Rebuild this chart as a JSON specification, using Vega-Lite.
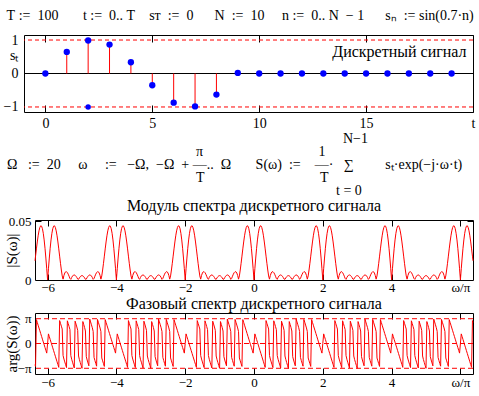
{
"$schema": "https://vega.github.io/schema/vega-lite/v6.json",
"padding": {"left": 2, "top": 8, "right": 0, "bottom": 0},
"background": "white",
"config": {
 "font": "Liberation Serif",
 "view": {"stroke": "black", "strokeWidth": 1},
 "axis": {"labelFont": "Liberation Serif", "labelColor": "black", "titleFont": "Liberation Serif", "titleFontWeight": "normal", "titleColor": "black", "grid": false, "domain": false, "tickColor": "black", "tickWidth": 1, "labelOverlap": false, "labelFlush": false, "labelBound": false},
 "title": {"font": "Liberation Serif", "fontSize": 14, "fontWeight": "normal", "color": "black"}
},
"datasets": {
 "signal": [{"t":0,"s":0},{"t":1,"s":0.644},{"t":2,"s":0.985},{"t":3,"s":0.863},{"t":4,"s":0.335},{"t":5,"s":-0.351},{"t":6,"s":-0.872},{"t":7,"s":-0.982},{"t":8,"s":-0.631},{"t":9,"s":0.017},{"t":10,"s":0},{"t":11,"s":0},{"t":12,"s":0},{"t":13,"s":0},{"t":14,"s":0},{"t":15,"s":0},{"t":16,"s":0},{"t":17,"s":0},{"t":18,"s":0},{"t":19,"s":0}],
 "spectrum": [
{"w":-6.366,"m":0.01633,"a":-0.852},
{"w":-6.35,"m":0.02029,"a":-0.925},{"w":-6.325,"m":0.02645,"a":0.963},{"w":-6.3,"m":0.03232,"a":0.85},{"w":-6.275,"m":0.03755,"a":0.738},{"w":-6.25,"m":0.04178,"a":0.625},{"w":-6.225,"m":0.04471,"a":0.513},{"w":-6.2,"m":0.0461,"a":0.4},{"w":-6.175,"m":0.04577,"a":0.288},{"w":-6.15,"m":0.04362,"a":0.175},{"w":-6.125,"m":0.03968,"a":0.063},{"w":-6.1,"m":0.03406,"a":-0.05},{"w":-6.075,"m":0.02696,"a":-0.163},{"w":-6.05,"m":0.01867,"a":-0.275},{"w":-6.025,"m":0.00955,"a":-0.388},
{"w":-6,"m":0.00009,"a":0},
{"w":-5.975,"m":0.00955,"a":0.388},{"w":-5.95,"m":0.01867,"a":0.275},{"w":-5.925,"m":0.02696,"a":0.163},{"w":-5.9,"m":0.03406,"a":0.05},{"w":-5.875,"m":0.03968,"a":-0.063},{"w":-5.85,"m":0.04362,"a":-0.175},{"w":-5.825,"m":0.04577,"a":-0.288},{"w":-5.8,"m":0.0461,"a":-0.4},{"w":-5.775,"m":0.04471,"a":-0.513},{"w":-5.75,"m":0.04178,"a":-0.625},{"w":-5.725,"m":0.03755,"a":-0.738},{"w":-5.7,"m":0.03232,"a":-0.85},{"w":-5.675,"m":0.02645,"a":-0.963},{"w":-5.65,"m":0.02029,"a":0.925},{"w":-5.625,"m":0.0142,"a":0.813},{"w":-5.6,"m":0.0085,"a":0.7},{"w":-5.575,"m":0.00346,"a":0.584},{"w":-5.55,"m":0.00071,"a":-0.483},{"w":-5.525,"m":0.00385,"a":-0.627},{"w":-5.5,"m":0.00594,"a":-0.743},{"w":-5.475,"m":0.00697,"a":-0.857},{"w":-5.45,"m":0.00705,"a":-0.971},{"w":-5.425,"m":0.00631,"a":0.915},{"w":-5.4,"m":0.00496,"a":0.8},{"w":-5.375,"m":0.00322,"a":0.684},{"w":-5.35,"m":0.00131,"a":0.559},{"w":-5.325,"m":0.00055,"a":-0.485},{"w":-5.3,"m":0.00216,"a":-0.636},{"w":-5.275,"m":0.00338,"a":-0.754},{"w":-5.25,"m":0.00411,"a":-0.87},{"w":-5.225,"m":0.0043,"a":-0.985},{"w":-5.2,"m":0.00398,"a":0.9},{"w":-5.175,"m":0.00321,"a":0.785},{"w":-5.15,"m":0.0021,"a":0.666},{"w":-5.125,"m":0.00078,"a":0.531},{"w":-5.1,"m":0.00059,"a":-0.504},{"w":-5.075,"m":0.00184,"a":-0.649},{"w":-5.05,"m":0.00285,"a":-0.768},{"w":-5.025,"m":0.00351,"a":-0.885},{"w":-5,"m":0.00373,"a":-1},
{"w":-4.975,"m":0.00351,"a":0.885},{"w":-4.95,"m":0.00285,"a":0.768},{"w":-4.925,"m":0.00184,"a":0.649},{"w":-4.9,"m":0.00059,"a":0.504},{"w":-4.875,"m":0.00078,"a":-0.531},{"w":-4.85,"m":0.0021,"a":-0.666},{"w":-4.825,"m":0.00321,"a":-0.785},{"w":-4.8,"m":0.00398,"a":-0.9},{"w":-4.775,"m":0.0043,"a":0.985},{"w":-4.75,"m":0.00411,"a":0.87},{"w":-4.725,"m":0.00338,"a":0.754},{"w":-4.7,"m":0.00216,"a":0.636},{"w":-4.675,"m":0.00055,"a":0.485},{"w":-4.65,"m":0.00131,"a":-0.559},{"w":-4.625,"m":0.00322,"a":-0.684},{"w":-4.6,"m":0.00496,"a":-0.8},{"w":-4.575,"m":0.00631,"a":-0.915},{"w":-4.55,"m":0.00705,"a":0.971},{"w":-4.525,"m":0.00697,"a":0.857},{"w":-4.5,"m":0.00594,"a":0.743},{"w":-4.475,"m":0.00385,"a":0.627},{"w":-4.45,"m":0.00071,"a":0.483},{"w":-4.425,"m":0.00346,"a":-0.584},{"w":-4.4,"m":0.0085,"a":-0.7},{"w":-4.375,"m":0.0142,"a":-0.813},{"w":-4.35,"m":0.02029,"a":-0.925},{"w":-4.325,"m":0.02645,"a":0.963},{"w":-4.3,"m":0.03232,"a":0.85},{"w":-4.275,"m":0.03755,"a":0.738},{"w":-4.25,"m":0.04178,"a":0.625},{"w":-4.225,"m":0.04471,"a":0.513},{"w":-4.2,"m":0.0461,"a":0.4},{"w":-4.175,"m":0.04577,"a":0.288},{"w":-4.15,"m":0.04362,"a":0.175},{"w":-4.125,"m":0.03968,"a":0.063},{"w":-4.1,"m":0.03406,"a":-0.05},{"w":-4.075,"m":0.02696,"a":-0.163},{"w":-4.05,"m":0.01867,"a":-0.275},{"w":-4.025,"m":0.00955,"a":-0.388},
{"w":-4,"m":0.00009,"a":0},
{"w":-3.975,"m":0.00955,"a":0.388},{"w":-3.95,"m":0.01867,"a":0.275},{"w":-3.925,"m":0.02696,"a":0.163},{"w":-3.9,"m":0.03406,"a":0.05},{"w":-3.875,"m":0.03968,"a":-0.063},{"w":-3.85,"m":0.04362,"a":-0.175},{"w":-3.825,"m":0.04577,"a":-0.288},{"w":-3.8,"m":0.0461,"a":-0.4},{"w":-3.775,"m":0.04471,"a":-0.513},{"w":-3.75,"m":0.04178,"a":-0.625},{"w":-3.725,"m":0.03755,"a":-0.738},{"w":-3.7,"m":0.03232,"a":-0.85},{"w":-3.675,"m":0.02645,"a":-0.963},{"w":-3.65,"m":0.02029,"a":0.925},{"w":-3.625,"m":0.0142,"a":0.813},{"w":-3.6,"m":0.0085,"a":0.7},{"w":-3.575,"m":0.00346,"a":0.584},{"w":-3.55,"m":0.00071,"a":-0.483},{"w":-3.525,"m":0.00385,"a":-0.627},{"w":-3.5,"m":0.00594,"a":-0.743},{"w":-3.475,"m":0.00697,"a":-0.857},{"w":-3.45,"m":0.00705,"a":-0.971},{"w":-3.425,"m":0.00631,"a":0.915},{"w":-3.4,"m":0.00496,"a":0.8},{"w":-3.375,"m":0.00322,"a":0.684},{"w":-3.35,"m":0.00131,"a":0.559},{"w":-3.325,"m":0.00055,"a":-0.485},{"w":-3.3,"m":0.00216,"a":-0.636},{"w":-3.275,"m":0.00338,"a":-0.754},{"w":-3.25,"m":0.00411,"a":-0.87},{"w":-3.225,"m":0.0043,"a":-0.985},{"w":-3.2,"m":0.00398,"a":0.9},{"w":-3.175,"m":0.00321,"a":0.785},{"w":-3.15,"m":0.0021,"a":0.666},{"w":-3.125,"m":0.00078,"a":0.531},{"w":-3.1,"m":0.00059,"a":-0.504},{"w":-3.075,"m":0.00184,"a":-0.649},{"w":-3.05,"m":0.00285,"a":-0.768},{"w":-3.025,"m":0.00351,"a":-0.885},{"w":-3,"m":0.00373,"a":-1},
{"w":-2.975,"m":0.00351,"a":0.885},{"w":-2.95,"m":0.00285,"a":0.768},{"w":-2.925,"m":0.00184,"a":0.649},{"w":-2.9,"m":0.00059,"a":0.504},{"w":-2.875,"m":0.00078,"a":-0.531},{"w":-2.85,"m":0.0021,"a":-0.666},{"w":-2.825,"m":0.00321,"a":-0.785},{"w":-2.8,"m":0.00398,"a":-0.9},{"w":-2.775,"m":0.0043,"a":0.985},{"w":-2.75,"m":0.00411,"a":0.87},{"w":-2.725,"m":0.00338,"a":0.754},{"w":-2.7,"m":0.00216,"a":0.636},{"w":-2.675,"m":0.00055,"a":0.485},{"w":-2.65,"m":0.00131,"a":-0.559},{"w":-2.625,"m":0.00322,"a":-0.684},{"w":-2.6,"m":0.00496,"a":-0.8},{"w":-2.575,"m":0.00631,"a":-0.915},{"w":-2.55,"m":0.00705,"a":0.971},{"w":-2.525,"m":0.00697,"a":0.857},{"w":-2.5,"m":0.00594,"a":0.743},{"w":-2.475,"m":0.00385,"a":0.627},{"w":-2.45,"m":0.00071,"a":0.483},{"w":-2.425,"m":0.00346,"a":-0.584},{"w":-2.4,"m":0.0085,"a":-0.7},{"w":-2.375,"m":0.0142,"a":-0.813},{"w":-2.35,"m":0.02029,"a":-0.925},{"w":-2.325,"m":0.02645,"a":0.963},{"w":-2.3,"m":0.03232,"a":0.85},{"w":-2.275,"m":0.03755,"a":0.738},{"w":-2.25,"m":0.04178,"a":0.625},{"w":-2.225,"m":0.04471,"a":0.513},{"w":-2.2,"m":0.0461,"a":0.4},{"w":-2.175,"m":0.04577,"a":0.288},{"w":-2.15,"m":0.04362,"a":0.175},{"w":-2.125,"m":0.03968,"a":0.063},{"w":-2.1,"m":0.03406,"a":-0.05},{"w":-2.075,"m":0.02696,"a":-0.163},{"w":-2.05,"m":0.01867,"a":-0.275},{"w":-2.025,"m":0.00955,"a":-0.388},
{"w":-2,"m":0.00009,"a":0},
{"w":-1.975,"m":0.00955,"a":0.388},{"w":-1.95,"m":0.01867,"a":0.275},{"w":-1.925,"m":0.02696,"a":0.163},{"w":-1.9,"m":0.03406,"a":0.05},{"w":-1.875,"m":0.03968,"a":-0.063},{"w":-1.85,"m":0.04362,"a":-0.175},{"w":-1.825,"m":0.04577,"a":-0.288},{"w":-1.8,"m":0.0461,"a":-0.4},{"w":-1.775,"m":0.04471,"a":-0.513},{"w":-1.75,"m":0.04178,"a":-0.625},{"w":-1.725,"m":0.03755,"a":-0.738},{"w":-1.7,"m":0.03232,"a":-0.85},{"w":-1.675,"m":0.02645,"a":-0.963},{"w":-1.65,"m":0.02029,"a":0.925},{"w":-1.625,"m":0.0142,"a":0.813},{"w":-1.6,"m":0.0085,"a":0.7},{"w":-1.575,"m":0.00346,"a":0.584},{"w":-1.55,"m":0.00071,"a":-0.483},{"w":-1.525,"m":0.00385,"a":-0.627},{"w":-1.5,"m":0.00594,"a":-0.743},{"w":-1.475,"m":0.00697,"a":-0.857},{"w":-1.45,"m":0.00705,"a":-0.971},{"w":-1.425,"m":0.00631,"a":0.915},{"w":-1.4,"m":0.00496,"a":0.8},{"w":-1.375,"m":0.00322,"a":0.684},{"w":-1.35,"m":0.00131,"a":0.559},{"w":-1.325,"m":0.00055,"a":-0.485},{"w":-1.3,"m":0.00216,"a":-0.636},{"w":-1.275,"m":0.00338,"a":-0.754},{"w":-1.25,"m":0.00411,"a":-0.87},{"w":-1.225,"m":0.0043,"a":-0.985},{"w":-1.2,"m":0.00398,"a":0.9},{"w":-1.175,"m":0.00321,"a":0.785},{"w":-1.15,"m":0.0021,"a":0.666},{"w":-1.125,"m":0.00078,"a":0.531},{"w":-1.1,"m":0.00059,"a":-0.504},{"w":-1.075,"m":0.00184,"a":-0.649},{"w":-1.05,"m":0.00285,"a":-0.768},{"w":-1.025,"m":0.00351,"a":-0.885},{"w":-1,"m":0.00373,"a":-1},
{"w":-0.975,"m":0.00351,"a":0.885},{"w":-0.95,"m":0.00285,"a":0.768},{"w":-0.925,"m":0.00184,"a":0.649},{"w":-0.9,"m":0.00059,"a":0.504},{"w":-0.875,"m":0.00078,"a":-0.531},{"w":-0.85,"m":0.0021,"a":-0.666},{"w":-0.825,"m":0.00321,"a":-0.785},{"w":-0.8,"m":0.00398,"a":-0.9},{"w":-0.775,"m":0.0043,"a":0.985},{"w":-0.75,"m":0.00411,"a":0.87},{"w":-0.725,"m":0.00338,"a":0.754},{"w":-0.7,"m":0.00216,"a":0.636},{"w":-0.675,"m":0.00055,"a":0.485},{"w":-0.65,"m":0.00131,"a":-0.559},{"w":-0.625,"m":0.00322,"a":-0.684},{"w":-0.6,"m":0.00496,"a":-0.8},{"w":-0.575,"m":0.00631,"a":-0.915},{"w":-0.55,"m":0.00705,"a":0.971},{"w":-0.525,"m":0.00697,"a":0.857},{"w":-0.5,"m":0.00594,"a":0.743},{"w":-0.475,"m":0.00385,"a":0.627},{"w":-0.45,"m":0.00071,"a":0.483},{"w":-0.425,"m":0.00346,"a":-0.584},{"w":-0.4,"m":0.0085,"a":-0.7},{"w":-0.375,"m":0.0142,"a":-0.813},{"w":-0.35,"m":0.02029,"a":-0.925},{"w":-0.325,"m":0.02645,"a":0.963},{"w":-0.3,"m":0.03232,"a":0.85},{"w":-0.275,"m":0.03755,"a":0.738},{"w":-0.25,"m":0.04178,"a":0.625},{"w":-0.225,"m":0.04471,"a":0.513},{"w":-0.2,"m":0.0461,"a":0.4},{"w":-0.175,"m":0.04577,"a":0.288},{"w":-0.15,"m":0.04362,"a":0.175},{"w":-0.125,"m":0.03968,"a":0.063},{"w":-0.1,"m":0.03406,"a":-0.05},{"w":-0.075,"m":0.02696,"a":-0.163},{"w":-0.05,"m":0.01867,"a":-0.275},{"w":-0.025,"m":0.00955,"a":-0.388},
{"w":0,"m":0.00009,"a":0},
{"w":0.025,"m":0.00955,"a":0.388},{"w":0.05,"m":0.01867,"a":0.275},{"w":0.075,"m":0.02696,"a":0.163},{"w":0.1,"m":0.03406,"a":0.05},{"w":0.125,"m":0.03968,"a":-0.063},{"w":0.15,"m":0.04362,"a":-0.175},{"w":0.175,"m":0.04577,"a":-0.288},{"w":0.2,"m":0.0461,"a":-0.4},{"w":0.225,"m":0.04471,"a":-0.513},{"w":0.25,"m":0.04178,"a":-0.625},{"w":0.275,"m":0.03755,"a":-0.738},{"w":0.3,"m":0.03232,"a":-0.85},{"w":0.325,"m":0.02645,"a":-0.963},{"w":0.35,"m":0.02029,"a":0.925},{"w":0.375,"m":0.0142,"a":0.813},{"w":0.4,"m":0.0085,"a":0.7},{"w":0.425,"m":0.00346,"a":0.584},{"w":0.45,"m":0.00071,"a":-0.483},{"w":0.475,"m":0.00385,"a":-0.627},{"w":0.5,"m":0.00594,"a":-0.743},{"w":0.525,"m":0.00697,"a":-0.857},{"w":0.55,"m":0.00705,"a":-0.971},{"w":0.575,"m":0.00631,"a":0.915},{"w":0.6,"m":0.00496,"a":0.8},{"w":0.625,"m":0.00322,"a":0.684},{"w":0.65,"m":0.00131,"a":0.559},{"w":0.675,"m":0.00055,"a":-0.485},{"w":0.7,"m":0.00216,"a":-0.636},{"w":0.725,"m":0.00338,"a":-0.754},{"w":0.75,"m":0.00411,"a":-0.87},{"w":0.775,"m":0.0043,"a":-0.985},{"w":0.8,"m":0.00398,"a":0.9},{"w":0.825,"m":0.00321,"a":0.785},{"w":0.85,"m":0.0021,"a":0.666},{"w":0.875,"m":0.00078,"a":0.531},{"w":0.9,"m":0.00059,"a":-0.504},{"w":0.925,"m":0.00184,"a":-0.649},{"w":0.95,"m":0.00285,"a":-0.768},{"w":0.975,"m":0.00351,"a":-0.885},{"w":1,"m":0.00373,"a":-1},
{"w":1.025,"m":0.00351,"a":0.885},{"w":1.05,"m":0.00285,"a":0.768},{"w":1.075,"m":0.00184,"a":0.649},{"w":1.1,"m":0.00059,"a":0.504},{"w":1.125,"m":0.00078,"a":-0.531},{"w":1.15,"m":0.0021,"a":-0.666},{"w":1.175,"m":0.00321,"a":-0.785},{"w":1.2,"m":0.00398,"a":-0.9},{"w":1.225,"m":0.0043,"a":0.985},{"w":1.25,"m":0.00411,"a":0.87},{"w":1.275,"m":0.00338,"a":0.754},{"w":1.3,"m":0.00216,"a":0.636},{"w":1.325,"m":0.00055,"a":0.485},{"w":1.35,"m":0.00131,"a":-0.559},{"w":1.375,"m":0.00322,"a":-0.684},{"w":1.4,"m":0.00496,"a":-0.8},{"w":1.425,"m":0.00631,"a":-0.915},{"w":1.45,"m":0.00705,"a":0.971},{"w":1.475,"m":0.00697,"a":0.857},{"w":1.5,"m":0.00594,"a":0.743},{"w":1.525,"m":0.00385,"a":0.627},{"w":1.55,"m":0.00071,"a":0.483},{"w":1.575,"m":0.00346,"a":-0.584},{"w":1.6,"m":0.0085,"a":-0.7},{"w":1.625,"m":0.0142,"a":-0.813},{"w":1.65,"m":0.02029,"a":-0.925},{"w":1.675,"m":0.02645,"a":0.963},{"w":1.7,"m":0.03232,"a":0.85},{"w":1.725,"m":0.03755,"a":0.738},{"w":1.75,"m":0.04178,"a":0.625},{"w":1.775,"m":0.04471,"a":0.513},{"w":1.8,"m":0.0461,"a":0.4},{"w":1.825,"m":0.04577,"a":0.288},{"w":1.85,"m":0.04362,"a":0.175},{"w":1.875,"m":0.03968,"a":0.063},{"w":1.9,"m":0.03406,"a":-0.05},{"w":1.925,"m":0.02696,"a":-0.163},{"w":1.95,"m":0.01867,"a":-0.275},{"w":1.975,"m":0.00955,"a":-0.388},
{"w":2,"m":0.00009,"a":0},
{"w":2.025,"m":0.00955,"a":0.388},{"w":2.05,"m":0.01867,"a":0.275},{"w":2.075,"m":0.02696,"a":0.163},{"w":2.1,"m":0.03406,"a":0.05},{"w":2.125,"m":0.03968,"a":-0.063},{"w":2.15,"m":0.04362,"a":-0.175},{"w":2.175,"m":0.04577,"a":-0.288},{"w":2.2,"m":0.0461,"a":-0.4},{"w":2.225,"m":0.04471,"a":-0.513},{"w":2.25,"m":0.04178,"a":-0.625},{"w":2.275,"m":0.03755,"a":-0.738},{"w":2.3,"m":0.03232,"a":-0.85},{"w":2.325,"m":0.02645,"a":-0.963},{"w":2.35,"m":0.02029,"a":0.925},{"w":2.375,"m":0.0142,"a":0.813},{"w":2.4,"m":0.0085,"a":0.7},{"w":2.425,"m":0.00346,"a":0.584},{"w":2.45,"m":0.00071,"a":-0.483},{"w":2.475,"m":0.00385,"a":-0.627},{"w":2.5,"m":0.00594,"a":-0.743},{"w":2.525,"m":0.00697,"a":-0.857},{"w":2.55,"m":0.00705,"a":-0.971},{"w":2.575,"m":0.00631,"a":0.915},{"w":2.6,"m":0.00496,"a":0.8},{"w":2.625,"m":0.00322,"a":0.684},{"w":2.65,"m":0.00131,"a":0.559},{"w":2.675,"m":0.00055,"a":-0.485},{"w":2.7,"m":0.00216,"a":-0.636},{"w":2.725,"m":0.00338,"a":-0.754},{"w":2.75,"m":0.00411,"a":-0.87},{"w":2.775,"m":0.0043,"a":-0.985},{"w":2.8,"m":0.00398,"a":0.9},{"w":2.825,"m":0.00321,"a":0.785},{"w":2.85,"m":0.0021,"a":0.666},{"w":2.875,"m":0.00078,"a":0.531},{"w":2.9,"m":0.00059,"a":-0.504},{"w":2.925,"m":0.00184,"a":-0.649},{"w":2.95,"m":0.00285,"a":-0.768},{"w":2.975,"m":0.00351,"a":-0.885},{"w":3,"m":0.00373,"a":-1},
{"w":3.025,"m":0.00351,"a":0.885},{"w":3.05,"m":0.00285,"a":0.768},{"w":3.075,"m":0.00184,"a":0.649},{"w":3.1,"m":0.00059,"a":0.504},{"w":3.125,"m":0.00078,"a":-0.531},{"w":3.15,"m":0.0021,"a":-0.666},{"w":3.175,"m":0.00321,"a":-0.785},{"w":3.2,"m":0.00398,"a":-0.9},{"w":3.225,"m":0.0043,"a":0.985},{"w":3.25,"m":0.00411,"a":0.87},{"w":3.275,"m":0.00338,"a":0.754},{"w":3.3,"m":0.00216,"a":0.636},{"w":3.325,"m":0.00055,"a":0.485},{"w":3.35,"m":0.00131,"a":-0.559},{"w":3.375,"m":0.00322,"a":-0.684},{"w":3.4,"m":0.00496,"a":-0.8},{"w":3.425,"m":0.00631,"a":-0.915},{"w":3.45,"m":0.00705,"a":0.971},{"w":3.475,"m":0.00697,"a":0.857},{"w":3.5,"m":0.00594,"a":0.743},{"w":3.525,"m":0.00385,"a":0.627},{"w":3.55,"m":0.00071,"a":0.483},{"w":3.575,"m":0.00346,"a":-0.584},{"w":3.6,"m":0.0085,"a":-0.7},{"w":3.625,"m":0.0142,"a":-0.813},{"w":3.65,"m":0.02029,"a":-0.925},{"w":3.675,"m":0.02645,"a":0.963},{"w":3.7,"m":0.03232,"a":0.85},{"w":3.725,"m":0.03755,"a":0.738},{"w":3.75,"m":0.04178,"a":0.625},{"w":3.775,"m":0.04471,"a":0.513},{"w":3.8,"m":0.0461,"a":0.4},{"w":3.825,"m":0.04577,"a":0.288},{"w":3.85,"m":0.04362,"a":0.175},{"w":3.875,"m":0.03968,"a":0.063},{"w":3.9,"m":0.03406,"a":-0.05},{"w":3.925,"m":0.02696,"a":-0.163},{"w":3.95,"m":0.01867,"a":-0.275},{"w":3.975,"m":0.00955,"a":-0.388},
{"w":4,"m":0.00009,"a":0},
{"w":4.025,"m":0.00955,"a":0.388},{"w":4.05,"m":0.01867,"a":0.275},{"w":4.075,"m":0.02696,"a":0.163},{"w":4.1,"m":0.03406,"a":0.05},{"w":4.125,"m":0.03968,"a":-0.063},{"w":4.15,"m":0.04362,"a":-0.175},{"w":4.175,"m":0.04577,"a":-0.288},{"w":4.2,"m":0.0461,"a":-0.4},{"w":4.225,"m":0.04471,"a":-0.513},{"w":4.25,"m":0.04178,"a":-0.625},{"w":4.275,"m":0.03755,"a":-0.738},{"w":4.3,"m":0.03232,"a":-0.85},{"w":4.325,"m":0.02645,"a":-0.963},{"w":4.35,"m":0.02029,"a":0.925},{"w":4.375,"m":0.0142,"a":0.813},{"w":4.4,"m":0.0085,"a":0.7},{"w":4.425,"m":0.00346,"a":0.584},{"w":4.45,"m":0.00071,"a":-0.483},{"w":4.475,"m":0.00385,"a":-0.627},{"w":4.5,"m":0.00594,"a":-0.743},{"w":4.525,"m":0.00697,"a":-0.857},{"w":4.55,"m":0.00705,"a":-0.971},{"w":4.575,"m":0.00631,"a":0.915},{"w":4.6,"m":0.00496,"a":0.8},{"w":4.625,"m":0.00322,"a":0.684},{"w":4.65,"m":0.00131,"a":0.559},{"w":4.675,"m":0.00055,"a":-0.485},{"w":4.7,"m":0.00216,"a":-0.636},{"w":4.725,"m":0.00338,"a":-0.754},{"w":4.75,"m":0.00411,"a":-0.87},{"w":4.775,"m":0.0043,"a":-0.985},{"w":4.8,"m":0.00398,"a":0.9},{"w":4.825,"m":0.00321,"a":0.785},{"w":4.85,"m":0.0021,"a":0.666},{"w":4.875,"m":0.00078,"a":0.531},{"w":4.9,"m":0.00059,"a":-0.504},{"w":4.925,"m":0.00184,"a":-0.649},{"w":4.95,"m":0.00285,"a":-0.768},{"w":4.975,"m":0.00351,"a":-0.885},{"w":5,"m":0.00373,"a":-1},
{"w":5.025,"m":0.00351,"a":0.885},{"w":5.05,"m":0.00285,"a":0.768},{"w":5.075,"m":0.00184,"a":0.649},{"w":5.1,"m":0.00059,"a":0.504},{"w":5.125,"m":0.00078,"a":-0.531},{"w":5.15,"m":0.0021,"a":-0.666},{"w":5.175,"m":0.00321,"a":-0.785},{"w":5.2,"m":0.00398,"a":-0.9},{"w":5.225,"m":0.0043,"a":0.985},{"w":5.25,"m":0.00411,"a":0.87},{"w":5.275,"m":0.00338,"a":0.754},{"w":5.3,"m":0.00216,"a":0.636},{"w":5.325,"m":0.00055,"a":0.485},{"w":5.35,"m":0.00131,"a":-0.559},{"w":5.375,"m":0.00322,"a":-0.684},{"w":5.4,"m":0.00496,"a":-0.8},{"w":5.425,"m":0.00631,"a":-0.915},{"w":5.45,"m":0.00705,"a":0.971},{"w":5.475,"m":0.00697,"a":0.857},{"w":5.5,"m":0.00594,"a":0.743},{"w":5.525,"m":0.00385,"a":0.627},{"w":5.55,"m":0.00071,"a":0.483},{"w":5.575,"m":0.00346,"a":-0.584},{"w":5.6,"m":0.0085,"a":-0.7},{"w":5.625,"m":0.0142,"a":-0.813},{"w":5.65,"m":0.02029,"a":-0.925},{"w":5.675,"m":0.02645,"a":0.963},{"w":5.7,"m":0.03232,"a":0.85},{"w":5.725,"m":0.03755,"a":0.738},{"w":5.75,"m":0.04178,"a":0.625},{"w":5.775,"m":0.04471,"a":0.513},{"w":5.8,"m":0.0461,"a":0.4},{"w":5.825,"m":0.04577,"a":0.288},{"w":5.85,"m":0.04362,"a":0.175},{"w":5.875,"m":0.03968,"a":0.063},{"w":5.9,"m":0.03406,"a":-0.05},{"w":5.925,"m":0.02696,"a":-0.163},{"w":5.95,"m":0.01867,"a":-0.275},{"w":5.975,"m":0.00955,"a":-0.388},
{"w":6,"m":0.00009,"a":0},
{"w":6.025,"m":0.00955,"a":0.388},{"w":6.05,"m":0.01867,"a":0.275},{"w":6.075,"m":0.02696,"a":0.163},{"w":6.1,"m":0.03406,"a":0.05},{"w":6.125,"m":0.03968,"a":-0.063},{"w":6.15,"m":0.04362,"a":-0.175},{"w":6.175,"m":0.04577,"a":-0.288},{"w":6.2,"m":0.0461,"a":-0.4},{"w":6.225,"m":0.04471,"a":-0.513},{"w":6.25,"m":0.04178,"a":-0.625},{"w":6.275,"m":0.03755,"a":-0.738},{"w":6.3,"m":0.03232,"a":-0.85},{"w":6.325,"m":0.02645,"a":-0.963},{"w":6.35,"m":0.02029,"a":0.925},
{"w":6.366,"m":0.01633,"a":0.852}
 ]
},
"spacing": 0,
"vconcat": [
 {
  "width": 449, "height": 77,
  "title": {"text": "\u200b\u00a0T\u00a0:=\u00a0\u00a0100\u00a0\u00a0\u00a0\u00a0\u00a0\u00a0\u00a0t\u00a0:=\u00a0\u00a00..\u00a0T\u00a0\u00a0\u00a0\u00a0sᴛ\u00a0\u00a0:=\u00a0\u00a00\u00a0\u00a0\u00a0\u00a0\u00a0\u00a0N\u00a0\u00a0:=\u00a0\u00a010\u00a0\u00a0\u00a0\u00a0\u00a0n\u00a0:=\u00a0\u00a00..\u00a0N\u00a0\u00a0−\u00a01\u00a0\u00a0\u00a0\u00a0\u00a0\u00a0sₙ\u00a0\u00a0:=\u00a0sin(0.7·n)", "anchor": "start", "frame": "bounds", "offset": 10},
  "resolve": {"axis": {"x": "independent", "y": "independent"}},
  "layer": [
   {
    "data": {"values": [{"level": 1}, {"level": -1}]},
    "mark": {"type": "rule", "color": "#ff0000", "strokeDash": [4, 3], "strokeWidth": 1},
    "encoding": {"y": {"field": "level", "type": "quantitative", "scale": {"domain": [-1.15, 1.15], "nice": false, "zero": false}, "axis": {"orient": "left", "values": [1, 0.55, 0, -1], "labelExpr": "datum.value == 0.55 ? 'sₜ' : datum.value == 1 ? '1' : datum.value == 0 ? '0' : '−1'", "ticks": false, "labelPadding": 6, "labelFontSize": 14, "title": null}}}
   },
   {
    "data": {"values": [{"level": 0}]},
    "mark": {"type": "rule", "color": "black", "strokeWidth": 1},
    "encoding": {"y": {"field": "level", "type": "quantitative", "axis": null}}
   },
   {
    "data": {"name": "signal"},
    "mark": {"type": "rule", "color": "#ff0000", "strokeWidth": 1},
    "encoding": {
     "x": {"field": "t", "type": "quantitative", "scale": {"domain": [-1, 20], "nice": false, "zero": false}, "axis": {"orient": "bottom", "values": [0, 5, 10, 15, 20], "labelExpr": "datum.value == 20 ? 't' : datum.label", "ticks": false, "labelPadding": 4, "labelFontSize": 14, "title": null}},
     "y": {"field": "s", "type": "quantitative", "axis": null},
     "y2": {"datum": 0}
    }
   },
   {
    "data": {"name": "signal"},
    "mark": {"type": "circle", "color": "#0000ff", "size": 40, "opacity": 1},
    "encoding": {
     "x": {"field": "t", "type": "quantitative", "axis": {"orient": "top", "values": [0, 5, 10, 15, 20], "labels": false, "tickSize": -7, "title": null}},
     "y": {"field": "s", "type": "quantitative", "axis": null}
    }
   },
   {
    "data": {"values": [{"t": 2, "s": -1}]},
    "mark": {"type": "circle", "color": "#0000ff", "size": 30, "opacity": 1},
    "encoding": {"x": {"field": "t", "type": "quantitative", "axis": {"orient": "bottom", "values": [0, 5, 10, 15, 20], "labels": false, "tickSize": -7, "title": null}}, "y": {"field": "s", "type": "quantitative", "axis": null}}
   },
   {
    "data": {"values": [{"label": "Дискретный сигнал"}]},
    "mark": {"type": "text", "align": "right", "baseline": "middle", "fontSize": 16, "font": "Liberation Serif", "color": "black"},
    "encoding": {"x": {"datum": 19.7, "type": "quantitative", "axis": null}, "y": {"datum": 0.64, "type": "quantitative", "axis": null}, "text": {"field": "label"}}
   }
  ]
 },
 {
  "title": {"text": [
   "\u200b\u00a0\u00a0\u00a0\u00a0\u00a0\u00a0\u00a0\u00a0\u00a0\u00a0\u00a0\u00a0\u00a0\u00a0\u00a0\u00a0\u00a0\u00a0\u00a0\u00a0\u00a0\u00a0\u00a0\u00a0\u00a0\u00a0\u00a0\u00a0\u00a0\u00a0\u00a0\u00a0\u00a0\u00a0\u00a0\u00a0\u00a0\u00a0\u00a0\u00a0\u00a0\u00a0\u00a0\u00a0\u00a0\u00a0\u00a0\u00a0\u00a0\u00a0\u00a0\u00a0\u00a0\u00a0\u00a0\u00a0\u00a0\u00a0\u00a0\u00a0\u00a0\u00a0\u00a0\u00a0\u00a0\u00a0\u00a0\u00a0\u00a0\u00a0\u00a0\u00a0\u00a0\u00a0\u00a0\u00a0\u00a0\u00a0\u00a0\u00a0\u00a0\u00a0\u00a0\u00a0\u00a0\u00a0\u00a0\u00a0\u00a0\u00a0\u00a0\u00a0\u00a0\u00a0\u00a0\u00a0\u00a0N−1",
   "\u200b\u00a0\u00a0\u00a0\u00a0\u00a0\u00a0\u00a0\u00a0\u00a0\u00a0\u00a0\u00a0\u00a0\u00a0\u00a0\u00a0\u00a0\u00a0\u00a0\u00a0\u00a0\u00a0\u00a0\u00a0\u00a0\u00a0\u00a0\u00a0\u00a0\u00a0\u00a0\u00a0\u00a0\u00a0\u00a0\u00a0\u00a0\u00a0\u00a0\u00a0\u00a0\u00a0\u00a0\u00a0\u00a0\u00a0\u00a0\u00a0\u00a0\u00a0\u00a0\u00a0\u00a0\u00a0\u00a0π\u00a0\u00a0\u00a0\u00a0\u00a0\u00a0\u00a0\u00a0\u00a0\u00a0\u00a0\u00a0\u00a0\u00a0\u00a0\u00a0\u00a0\u00a0\u00a0\u00a0\u00a0\u00a0\u00a0\u00a0\u00a0\u00a0\u00a0\u00a0\u00a0\u00a0\u00a0\u00a0\u00a01",
   "\u200b\u00a0Ω\u00a0\u00a0\u00a0:=\u00a0\u00a020\u00a0\u00a0\u00a0\u00a0\u00a0ω\u00a0\u00a0\u00a0\u00a0\u00a0:=\u00a0\u00a0\u00a0−Ω,\u00a0\u00a0−Ω\u00a0\u00a0+\u00a0―..\u00a0\u00a0Ω\u00a0\u00a0\u00a0\u00a0\u00a0\u00a0\u00a0S(ω)\u00a0\u00a0:=\u00a0\u00a0\u00a0\u00a0―·\u00a0\u00a0\u00a0∑\u00a0\u00a0\u00a0\u00a0\u00a0\u00a0\u00a0\u00a0\u00a0sₜ·exp(−j·ω·t)",
   "\u200b\u00a0\u00a0\u00a0\u00a0\u00a0\u00a0\u00a0\u00a0\u00a0\u00a0\u00a0\u00a0\u00a0\u00a0\u00a0\u00a0\u00a0\u00a0\u00a0\u00a0\u00a0\u00a0\u00a0\u00a0\u00a0\u00a0\u00a0\u00a0\u00a0\u00a0\u00a0\u00a0\u00a0\u00a0\u00a0\u00a0\u00a0\u00a0\u00a0\u00a0\u00a0\u00a0\u00a0\u00a0\u00a0\u00a0\u00a0\u00a0\u00a0\u00a0\u00a0\u00a0\u00a0\u00a0\u00a0T\u00a0\u00a0\u00a0\u00a0\u00a0\u00a0\u00a0\u00a0\u00a0\u00a0\u00a0\u00a0\u00a0\u00a0\u00a0\u00a0\u00a0\u00a0\u00a0\u00a0\u00a0\u00a0\u00a0\u00a0\u00a0\u00a0\u00a0\u00a0\u00a0\u00a0\u00a0\u00a0\u00a0T",
   "\u200b\u00a0\u00a0\u00a0\u00a0\u00a0\u00a0\u00a0\u00a0\u00a0\u00a0\u00a0\u00a0\u00a0\u00a0\u00a0\u00a0\u00a0\u00a0\u00a0\u00a0\u00a0\u00a0\u00a0\u00a0\u00a0\u00a0\u00a0\u00a0\u00a0\u00a0\u00a0\u00a0\u00a0\u00a0\u00a0\u00a0\u00a0\u00a0\u00a0\u00a0\u00a0\u00a0\u00a0\u00a0\u00a0\u00a0\u00a0\u00a0\u00a0\u00a0\u00a0\u00a0\u00a0\u00a0\u00a0\u00a0\u00a0\u00a0\u00a0\u00a0\u00a0\u00a0\u00a0\u00a0\u00a0\u00a0\u00a0\u00a0\u00a0\u00a0\u00a0\u00a0\u00a0\u00a0\u00a0\u00a0\u00a0\u00a0\u00a0\u00a0\u00a0\u00a0\u00a0\u00a0\u00a0\u00a0\u00a0\u00a0\u00a0\u00a0\u00a0\u00a0\u00a0\u00a0\u00a0t = 0"
  ], "anchor": "start", "frame": "bounds", "offset": 0, "lineHeight": 13, "fontSize": 14},
  "bounds": "flush",
  "spacing": 0,
  "hconcat": [
   {
    "width": 11, "height": 1,
    "view": {"stroke": null},
    "data": {"values": []},
    "mark": "point"
   },
   {
    "spacing": 0,
    "vconcat": [
     {
      "width": 438, "height": 60,
      "title": {"text": "Модуль спектра дискретного сигнала", "offset": 1, "fontSize": 16},
      "data": {"name": "spectrum"},
      "resolve": {"axis": {"x": "independent", "y": "independent"}},
      "layer": [
       {
        "mark": {"type": "line", "color": "#ff0000", "strokeWidth": 1},
        "encoding": {
         "x": {"field": "w", "type": "quantitative", "scale": {"domain": [-6.366, 6.366], "nice": false, "zero": false}, "axis": {"orient": "bottom", "values": [-6, -4, -2, 0, 2, 4, 6], "labelExpr": "datum.value == 6 ? 'ω/π' : datum.label", "ticks": false, "labelPadding": 1, "labelFontSize": 13, "title": null}},
         "y": {"field": "m", "type": "quantitative", "scale": {"domain": [0, 0.051], "nice": false, "zero": false}, "axis": {"orient": "left", "values": [0, 0.05], "labelExpr": "datum.value == 0 ? '0' : '0.05'", "ticks": false, "labelPadding": 4, "labelFontSize": 13, "title": "|S(ω)|", "titleFontSize": 15, "titlePadding": 0, "minExtent": 16, "maxExtent": 16}}
        }
       },
       {
        "mark": {"type": "line", "strokeOpacity": 0},
        "encoding": {
         "x": {"field": "w", "type": "quantitative", "axis": {"orient": "top", "values": [-6, -4, -2, 0, 2, 4, 6], "labels": false, "tickSize": -6, "title": null}},
         "y": {"field": "m", "type": "quantitative", "axis": {"orient": "right", "values": [0.05], "labels": false, "tickSize": -6, "title": null}}
        }
       },
       {
        "mark": {"type": "line", "strokeOpacity": 0},
        "encoding": {
         "x": {"field": "w", "type": "quantitative", "axis": {"orient": "bottom", "values": [-6, -4, -2, 0, 2, 4, 6], "labels": false, "tickSize": -6, "title": null}},
         "y": {"field": "m", "type": "quantitative", "axis": {"orient": "left", "values": [0.05], "labels": false, "tickSize": -6, "title": null}}
        }
       }
      ]
     },
     {
      "width": 438, "height": 61,
      "title": {"text": "Фазовый спектр дискретного сигнала", "offset": 1, "fontSize": 16},
      "resolve": {"axis": {"x": "independent", "y": "independent"}},
      "layer": [
       {
        "data": {"values": [{"level": 1}, {"level": 0}, {"level": -1}]},
        "mark": {"type": "rule", "color": "#ff0000", "strokeDash": [5, 3], "strokeWidth": 1},
        "encoding": {"y": {"field": "level", "type": "quantitative", "scale": {"domain": [-1.23, 1.23], "nice": false, "zero": false}, "axis": {"orient": "left", "values": [1, 0, -1], "labelExpr": "datum.value == 1 ? 'π' : datum.value == -1 ? '−π' : '0'", "ticks": false, "labelPadding": 4, "labelFontSize": 13, "title": "arg(S(ω))", "titleFontSize": 15, "titlePadding": 0, "minExtent": 16, "maxExtent": 16}}}
       },
       {
        "data": {"name": "spectrum"},
        "mark": {"type": "line", "color": "#ff0000", "strokeWidth": 1},
        "encoding": {
         "x": {"field": "w", "type": "quantitative", "scale": {"domain": [-6.366, 6.366], "nice": false, "zero": false}, "axis": {"orient": "bottom", "values": [-6, -4, -2, 0, 2, 4, 6], "labelExpr": "datum.value == 6 ? 'ω/π' : datum.label", "ticks": false, "labelPadding": 2, "labelFontSize": 13, "title": null}},
         "y": {"field": "a", "type": "quantitative", "axis": null}
        }
       },
       {
        "data": {"name": "spectrum"},
        "mark": {"type": "line", "strokeOpacity": 0},
        "encoding": {
         "x": {"field": "w", "type": "quantitative", "axis": {"orient": "top", "values": [-6, -4, -2, 0, 2, 4, 6], "labels": false, "tickSize": -6, "title": null}},
         "y": {"field": "a", "type": "quantitative", "axis": null}
        }
       },
       {
        "data": {"name": "spectrum"},
        "mark": {"type": "line", "strokeOpacity": 0},
        "encoding": {
         "x": {"field": "w", "type": "quantitative", "axis": {"orient": "bottom", "values": [-6, -4, -2, 0, 2, 4, 6], "labels": false, "tickSize": -6, "title": null}},
         "y": {"field": "a", "type": "quantitative", "axis": null}
        }
       }
      ]
     }
    ]
   }
  ]
 }
]
}
